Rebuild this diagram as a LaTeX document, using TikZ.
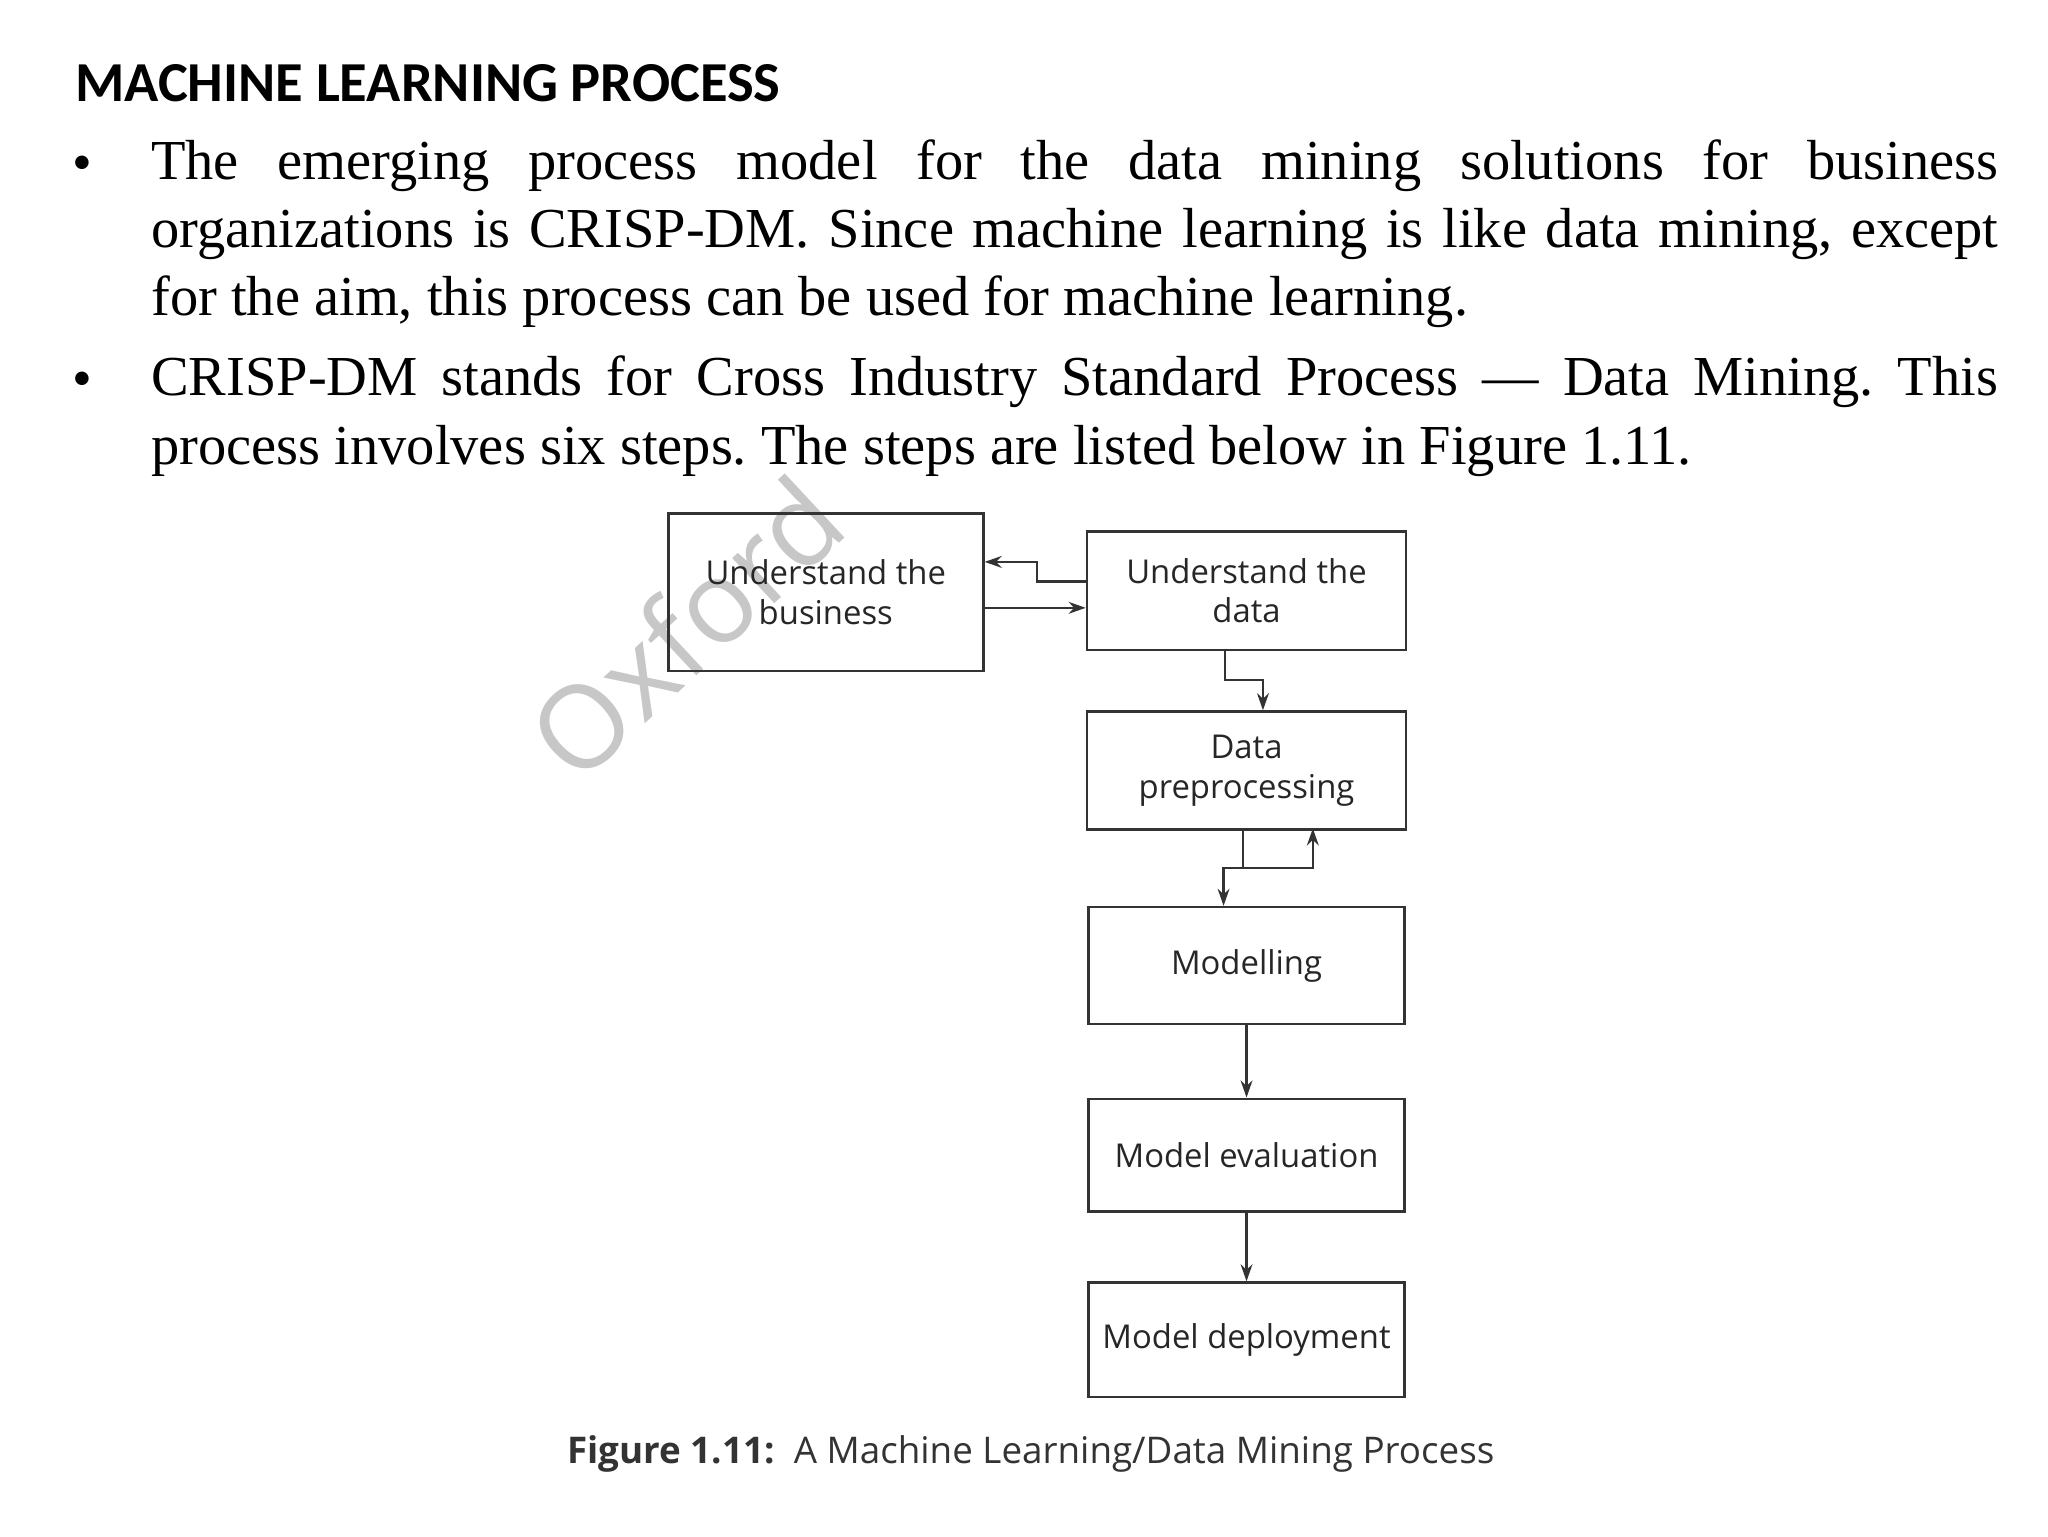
\documentclass[tikz,border=0pt]{standalone}
\usepackage{fontspec}
\setmainfont{Liberation Serif}
\newfontfamily\titlefont{Carlito}
\newfontfamily\diafont{Open Sans}
\usetikzlibrary{arrows.meta}
\frenchspacing
\hyphenation{organizations process business machine learning mining}
\begin{document}
\begin{tikzpicture}[x=1pt,y=-1pt,
  stepbox/.style={draw=black!80,line width=2pt,inner sep=0pt,anchor=north west,font=\diafont\fontsize{25}{30}\selectfont,text=black!85,align=center},
  conn/.style={draw=black!80,line width=1.8pt},
  arr/.style={conn,-{Stealth[length=13pt,width=9pt]}},
  para/.style={anchor=north west,inner sep=0pt,text width=1407pt,align=justify,font=\fontsize{43}{52}\selectfont}]
\useasboundingbox (0,0) rectangle (1560,1170);
\node[rotate=43,font=\diafont\fontsize{88}{88}\selectfont,text=black!22] (wm) at (522,478) {Oxford};
\node[anchor=base west,inner sep=0pt,font=\titlefont\bfseries\fontsize{43}{50}\selectfont] (title) at (57,77) {MACHINE LEARNING PROCESS};
\node[anchor=base west,inner sep=0pt,font=\fontsize{43}{52}\selectfont] (b1) at (55,138) {•};
\node[anchor=base west,inner sep=0pt,font=\fontsize{43}{52}\selectfont] (b2) at (55,303) {•};
\node[para] (p1) at (115,106)
 {The emerging process model for the data mining solutions for business organizations is CRISP-DM. Since machine learning is like data mining, except for the aim, this process can be used for machine learning.};
\node[para] (p2) at (115,271)
 {CRISP-DM stands for Cross Industry Standard Process — Data Mining. This process involves six steps. The steps are listed below in Figure 1.11.};
\node[stepbox,minimum width=240pt,minimum height=120pt] (ub) at (508,390) {Understand the\\business};
\node[stepbox,minimum width=243pt,minimum height=90pt] (ud) at (827,404) {Understand the\\data};
\node[stepbox,minimum width=243pt,minimum height=90pt] (dp) at (827,541) {Data\\preprocessing};
\node[stepbox,minimum width=241pt,minimum height=89pt] (mo) at (828,690) {Modelling};
\node[stepbox,minimum width=241pt,minimum height=86pt] (me) at (828,836) {Model evaluation};
\node[stepbox,minimum width=241pt,minimum height=87pt] (md) at (828,976) {Model deployment};
\coordinate (j1) at (947,661);
\draw[arr] (ud.west |- 0,443) -| (790,428) -- (ub.east |- 0,428);
\draw[arr] (ub.east |- 0,463) -- (ud.west |- 0,463);
\draw[arr] (933,494) |- (962,518) -- (962,541);
\draw[conn] (947,631) -- (j1);
\draw[arr] (j1) -| (932,690);
\draw[arr] (j1) -| (1000,631);
\draw[arr] (mo.south) -- (me.north);
\draw[arr] (me.south) -- (md.north);
\node[anchor=base west,inner sep=0pt,font=\diafont\fontsize{28}{32}\selectfont,text=black!80] (cap) at (432,1115) {\textbf{Figure 1.11:}\ \ A Machine Learning/Data Mining Process};
\end{tikzpicture}
\end{document}
